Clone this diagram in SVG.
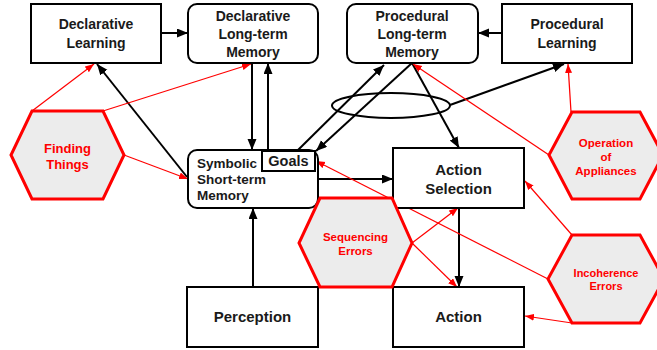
<svg xmlns="http://www.w3.org/2000/svg" width="657" height="350" viewBox="0 0 657 350">
<defs>
<marker id="ab" markerUnits="userSpaceOnUse" markerWidth="12" markerHeight="10" refX="11" refY="4.5" orient="auto"><path d="M0,0 L11,4.5 L0,9 z" fill="#000"/></marker>
<marker id="ar" markerUnits="userSpaceOnUse" markerWidth="10" markerHeight="8" refX="9" refY="3.5" orient="auto"><path d="M0,0 L9,3.5 L0,7 z" fill="#f00"/></marker>
<style>
.box{fill:#fff;stroke:#000;stroke-width:2}
.hex{fill:#ececec;stroke:#f00;stroke-width:3;stroke-linejoin:miter}
.t{font-family:"Liberation Sans",Arial,sans-serif;font-weight:bold;fill:#1a1a1a;text-anchor:middle}
.ht{font-family:"Liberation Sans",Arial,sans-serif;font-weight:bold;fill:#f00;text-anchor:middle}
.bl{stroke:#000;stroke-width:2;fill:none;marker-end:url(#ab)}
.rl{stroke:#f00;stroke-width:1.2;fill:none;marker-end:url(#ar)}
</style>
</defs>
<rect width="657" height="350" fill="#fff"/>
<g id="connectors">
<line class="bl" x1="161" y1="33" x2="188" y2="33"/>
<line class="bl" x1="502" y1="33" x2="478" y2="33"/>
<line class="bl" x1="252" y1="63" x2="252" y2="150"/>
<line class="bl" x1="268" y1="151" x2="268" y2="63"/>
<line class="bl" x1="187" y1="177" x2="97" y2="64"/>
<line class="bl" x1="297" y1="151" x2="384" y2="65"/>
<line class="bl" x1="412" y1="63" x2="316" y2="151"/>
<line class="bl" x1="412" y1="63" x2="459" y2="148"/>
<ellipse cx="391" cy="105.5" rx="59" ry="12.5" fill="none" stroke="#000" stroke-width="2"/>
<line class="bl" x1="450" y1="105" x2="564" y2="64"/>
<line class="bl" x1="318" y1="179" x2="393" y2="179"/>
<line class="bl" x1="253" y1="287" x2="253" y2="208"/>
<line class="bl" x1="459" y1="208" x2="459" y2="287"/>
<line class="rl" x1="32" y1="111" x2="94" y2="64"/>
<line class="rl" x1="103" y1="111" x2="251" y2="64"/>
<line class="rl" x1="124" y1="155" x2="188" y2="179"/>
<line class="rl" x1="549" y1="155" x2="413" y2="64"/>
<line class="rl" x1="571" y1="112" x2="568" y2="64"/>
<line class="rl" x1="572" y1="235" x2="525" y2="181"/>
<line class="rl" x1="548" y1="279" x2="316" y2="161"/>
<line class="rl" x1="572" y1="323" x2="525" y2="316"/>
<line class="rl" x1="412" y1="243" x2="458" y2="208"/>
<line class="rl" x1="412" y1="243" x2="457" y2="287"/>
</g>
<g id="declarative-learning">
<rect class="box" x="31" y="4" width="130" height="59"/>
<text class="t" font-size="14" x="96" y="29">Declarative</text>
<text class="t" font-size="14" x="96" y="48">Learning</text>
</g>
<g id="declarative-ltm">
<rect class="box" x="188" y="4" width="130" height="59" rx="9"/>
<text class="t" font-size="14" x="253" y="21">Declarative</text>
<text class="t" font-size="14" x="253" y="39">Long-term</text>
<text class="t" font-size="14" x="253" y="57">Memory</text>
</g>
<g id="procedural-ltm">
<rect class="box" x="347" y="4" width="131" height="59" rx="9"/>
<text class="t" font-size="14" x="412" y="21">Procedural</text>
<text class="t" font-size="14" x="412" y="39">Long-term</text>
<text class="t" font-size="14" x="412" y="57">Memory</text>
</g>
<g id="procedural-learning">
<rect class="box" x="502" y="4" width="130" height="59"/>
<text class="t" font-size="14" x="567" y="29">Procedural</text>
<text class="t" font-size="14" x="567" y="48">Learning</text>
</g>
<g id="symbolic-stm">
<rect class="box" x="188" y="150" width="130" height="58" rx="9"/>
<text class="t" font-size="13.5" x="197" y="168" text-anchor="start" style="text-anchor:start">Symbolic</text>
<text class="t" font-size="13.5" x="197" y="184" style="text-anchor:start">Short-term</text>
<text class="t" font-size="13.5" x="197" y="200" style="text-anchor:start">Memory</text>
</g>
<g id="goals">
<rect class="box" x="262" y="151" width="53" height="20"/>
<text class="t" font-size="14.5" x="288.5" y="166">Goals</text>
</g>
<g id="action-selection">
<rect class="box" x="393" y="148" width="131" height="60"/>
<text class="t" font-size="15" x="458.5" y="175">Action</text>
<text class="t" font-size="15" x="458.5" y="194">Selection</text>
</g>
<g id="perception">
<rect class="box" x="187" y="287" width="131" height="60"/>
<text class="t" font-size="15" x="252.5" y="322">Perception</text>
</g>
<g id="action">
<rect class="box" x="393" y="287" width="131" height="60"/>
<text class="t" font-size="15" x="458.5" y="322">Action</text>
</g>
<g id="finding-things">
<polygon class="hex" points="32,111 103,111 124,155 103,199 32,199 11,155"/>
<text class="ht" font-size="13" x="67.5" y="153">Finding</text>
<text class="ht" font-size="13" x="67.5" y="169">Things</text>
</g>
<g id="operation-of-appliances">
<polygon class="hex" points="572,112 640,112 663,155 640,199 572,199 549,155"/>
<text class="ht" font-size="11.5" x="606" y="147">Operation</text>
<text class="ht" font-size="11.5" x="606" y="161">of</text>
<text class="ht" font-size="11.5" x="606" y="175">Appliances</text>
</g>
<g id="sequencing-errors">
<polygon class="hex" points="320,198 392,198 412,243 392,287 320,287 299,243"/>
<text class="ht" font-size="11.5" x="355.5" y="241">Sequencing</text>
<text class="ht" font-size="11.5" x="355.5" y="255">Errors</text>
</g>
<g id="incoherence-errors">
<polygon class="hex" points="572,235 640,235 664,279 640,323 572,323 548,279"/>
<text class="ht" font-size="11" x="606" y="277">Incoherence</text>
<text class="ht" font-size="11" x="606" y="290">Errors</text>
</g>
</svg>
